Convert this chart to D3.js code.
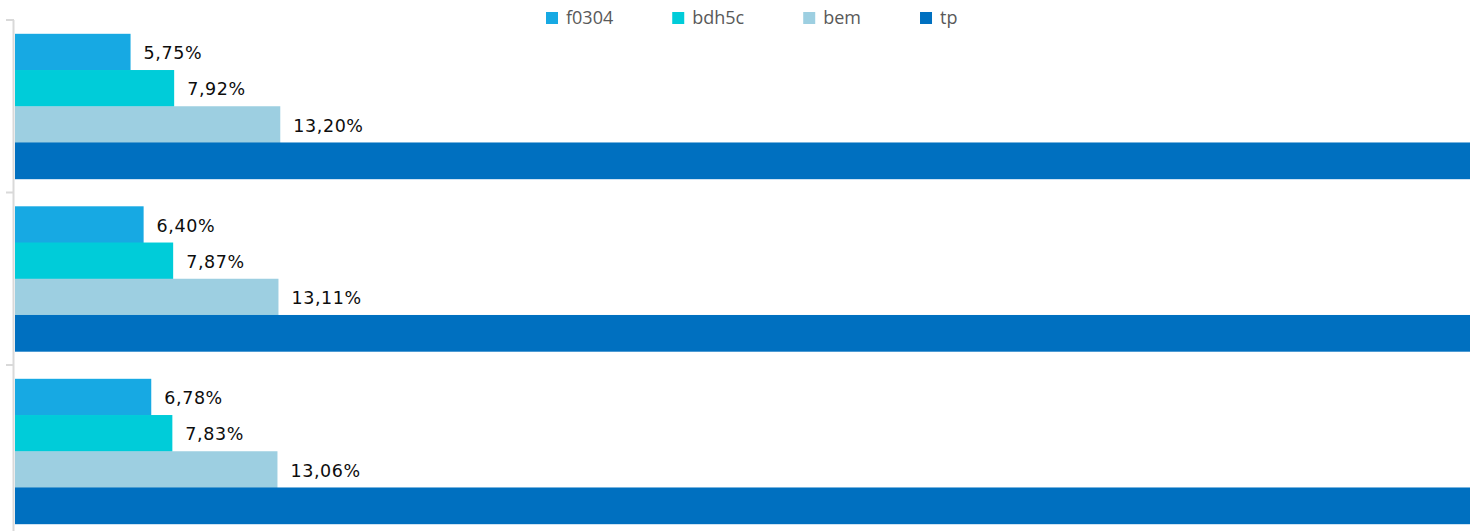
<!DOCTYPE html>
<html>
<head>
<meta charset="utf-8">
<script src="https://cdn.jsdelivr.net/npm/d3@7"></script>
<style>
  html, body { margin: 0; padding: 0; background: #fff; }
  svg { display: block; }
</style>
</head>
<body>
<svg id="chart" width="1470" height="531"></svg>
<script>
// Groups (top to bottom) and series
const categories = ["g1", "g2", "g3"];
const seriesNames = ["f0304", "bdh5c", "bem", "tp"];
const seriesColors = ["#17A9E3", "#00CCD9", "#9DCFE1", "#0070C0"];

// Values in percent, one array per series, in category order
const f0304 = [5.75, 6.40, 6.78];
const bdh5c = [7.92, 7.87, 7.83];
const bem = [13.20, 13.11, 13.06];
const tp = [100, 100, 100];
const seriesValues = [f0304, bdh5c, bem, tp];
// Only these series carry value labels
const labelledSeries = ["f0304", "bdh5c", "bem"];

const W = 1470, H = 531;
const plot = { left: 15, right: 1470, top: 20, bottom: 537.5 };
const xMax = 72.4;

const svg = d3.select("#chart");

const x = d3.scaleLinear().domain([0, xMax]).range([plot.left, plot.right]);
const y0 = d3.scaleBand().domain(categories)
  .range([plot.top, plot.bottom]).paddingInner(0.16).paddingOuter(0.08);
const y1 = d3.scaleBand().domain(seriesNames).range([0, y0.bandwidth()]);
const color = d3.scaleOrdinal().domain(seriesNames).range(seriesColors);

svg.append("defs").append("clipPath").attr("id", "plotClip")
  .append("rect").attr("x", plot.left).attr("y", 0)
  .attr("width", plot.right - plot.left).attr("height", H);

// Category axis on the left: line plus ticks at band boundaries
const axisG = svg.append("g");
axisG.append("line")
  .attr("x1", 13.5).attr("x2", 13.5)
  .attr("y1", plot.top).attr("y2", plot.bottom)
  .attr("stroke", "#d9d9d9").attr("stroke-width", 2);
const boundaries = categories.map(c => y0(c) - y0.step() * y0.paddingInner() / 2)
  .concat([plot.bottom]);
axisG.selectAll("line.tick").data(boundaries).join("line")
  .attr("class", "tick")
  .attr("x1", 6).attr("x2", 14)
  .attr("y1", d => d).attr("y2", d => d)
  .attr("stroke", "#d9d9d9").attr("stroke-width", 2);

// Flatten rows for drawing
const rows = [];
categories.forEach((c, ci) => {
  seriesNames.forEach((s, si) => {
    rows.push({ cat: c, series: s, value: seriesValues[si][ci] });
  });
});

const barsG = svg.append("g").attr("clip-path", "url(#plotClip)");
barsG.selectAll("rect").data(rows).join("rect")
  .attr("x", x(0))
  .attr("y", d => y0(d.cat) + y1(d.series))
  .attr("width", d => x(d.value) - x(0))
  .attr("height", y1.bandwidth() + 0.5)
  .attr("fill", d => color(d.series));

const fmt = v => d3.format(".2f")(v).replace(".", ",") + "%";
svg.append("g").selectAll("text")
  .data(rows.filter(d => labelledSeries.includes(d.series)))
  .join("text")
  .attr("x", d => x(d.value) + 13)
  .attr("y", d => y0(d.cat) + y1(d.series) + y1.bandwidth() / 2)
  .attr("dy", "0.42em")
  .attr("font-family", "DejaVu Sans, Verdana, sans-serif")
  .attr("font-size", 17.5)
  .attr("letter-spacing", 0.6)
  .attr("fill", "#0d0d0d")
  .text(d => fmt(d.value));

// Legend across the top
const legend = svg.append("g");
let cx = 546;
seriesNames.forEach(s => {
  const item = legend.append("g").attr("transform", `translate(${cx},0)`);
  item.append("rect").attr("x", 0).attr("y", 12).attr("width", 12).attr("height", 12)
    .attr("fill", color(s));
  const t = item.append("text").attr("x", 20).attr("y", 24)
    .attr("font-family", "Open Sans, sans-serif")
    .attr("font-size", 18)
    .attr("fill", "#595959")
    .text(s);
  const w = t.node().getComputedTextLength();
  cx += 20 + w + 59;
});
</script>
</body>
</html>
